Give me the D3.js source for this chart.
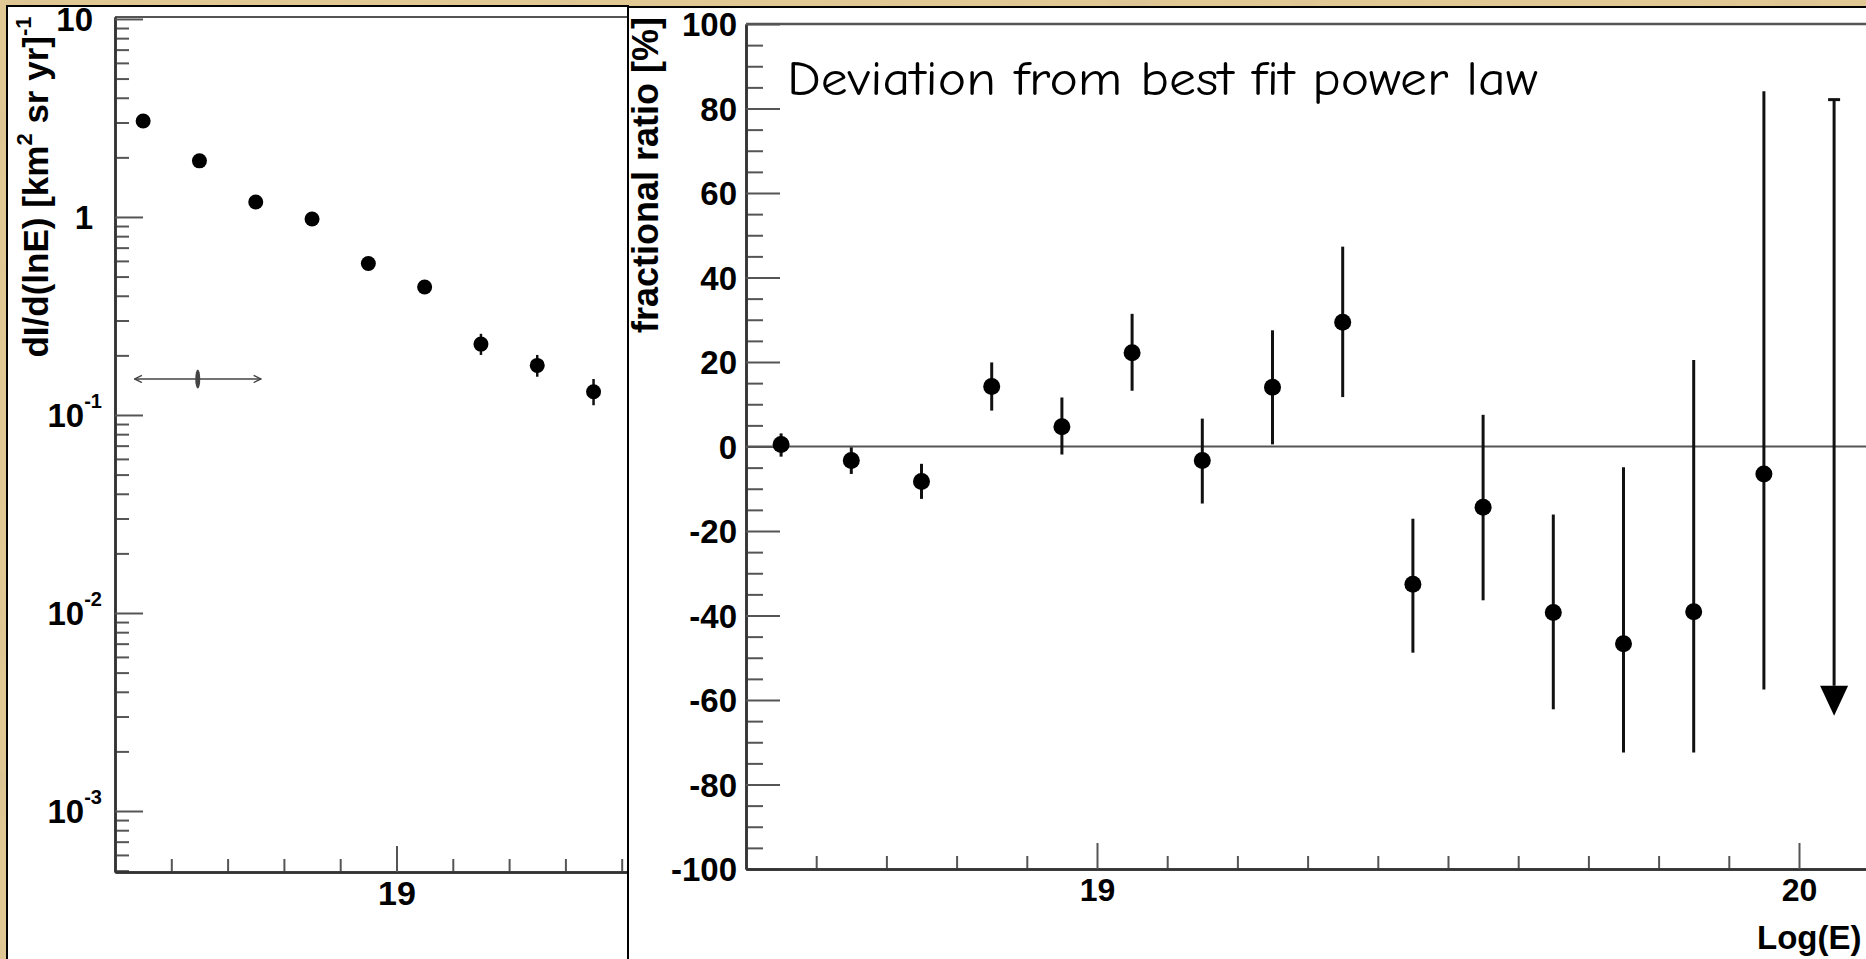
<!DOCTYPE html>
<html>
<head>
<meta charset="utf-8">
<script src="https://cdn.jsdelivr.net/npm/d3@7"></script>
<style>
  body { margin: 0; background: #e2c993; overflow: hidden; }
  svg { display: block; }
  .tick text { font-family: "Liberation Sans", Arial, sans-serif; font-weight: bold; fill: #000; }
  .axis-label { font-family: "Liberation Sans", Arial, sans-serif; font-weight: bold; fill: #000; }
</style>
</head>
<body>
<div id="chart"></div>
<script>
// left panel: differential flux
const fluxLogE = [18.55, 18.65, 18.75, 18.85, 18.95, 19.05, 19.15, 19.25, 19.35];
const fluxValues = [3.05, 1.92, 1.19, 0.977, 0.582, 0.443, 0.228, 0.178, 0.131];
const fluxLow = [2.96, 1.87, 1.16, 0.95, 0.565, 0.425, 0.201, 0.156, 0.112];
const fluxHigh = [3.14, 1.97, 1.22, 1.005, 0.60, 0.462, 0.257, 0.201, 0.152];
const resolutionCenter = 18.647, resolutionHalfWidth = 0.112, resolutionLevel = 0.152;

// right panel: deviation from power law
const ratioLogE = [18.55, 18.65, 18.75, 18.85, 18.95, 19.05, 19.15, 19.25, 19.35, 19.45, 19.55, 19.65, 19.75, 19.85, 19.95];
const ratioValues = [0.5, -3.3, -8.3, 14.2, 4.7, 22.2, -3.3, 14.0, 29.4, -32.6, -14.4, -39.3, -46.7, -39.1, -6.5];
const ratioHigh = [3.1, -0.2, -4.1, 19.9, 11.6, 31.4, 6.6, 27.5, 47.3, -17.1, 7.5, -16.1, -4.9, 20.5, 84.1];
const ratioLow = [-2.4, -6.5, -12.4, 8.5, -1.9, 13.2, -13.5, 0.5, 11.7, -48.8, -36.4, -62.2, -72.4, -72.4, -57.5];
const limitLogE = 20.05, limitTop = 82.1, limitArrowBase = -56.6, limitArrowTip = -63.7;

const fluxMajorTicks = [1e-3, 1e-2, 1e-1, 1, 10];
const fluxXMajor = [19];
const ratioXMajor = [19, 20];
const ratioYMajor = [-100, -80, -60, -40, -20, 0, 20, 40, 60, 80, 100];

const W = 1866, H = 959;

const svg = d3.select("#chart").append("svg")
    .attr("width", W)
    .attr("height", H);

const defs = svg.append("defs");
const paper = defs.append("filter").attr("id", "paper")
    .attr("filterUnits", "userSpaceOnUse")
    .attr("x", 0).attr("y", 0).attr("width", W).attr("height", H);
paper.append("feTurbulence").attr("type", "fractalNoise").attr("baseFrequency", 0.012).attr("numOctaves", 4).attr("seed", 7);
paper.append("feColorMatrix").attr("type", "matrix")
    .attr("values", "0 0 0 0 0.72  0 0 0 0 0.55  0 0 0 0 0.30  0 0 0 2.6 -1.05");

defs.append("clipPath").attr("id", "clipLeft")
    .append("rect").attr("x", 8).attr("y", 7).attr("width", 619).attr("height", H);
defs.append("clipPath").attr("id", "clipRight")
    .append("rect").attr("x", 629).attr("y", 8).attr("width", W).attr("height", H);

defs.append("marker").attr("id", "chev")
    .attr("viewBox", "0 0 10 10").attr("refX", 9).attr("refY", 5)
    .attr("markerWidth", 9).attr("markerHeight", 9)
    .attr("markerUnits", "userSpaceOnUse")
    .attr("orient", "auto-start-reverse")
    .append("path").attr("d", "M1,1 L9,5 L1,9")
    .attr("fill", "none").attr("stroke", "#444").attr("stroke-width", 1.5);

// parchment background
svg.append("rect").attr("width", W).attr("height", H).attr("fill", "#e2c993");
svg.append("rect").attr("width", W).attr("height", H).attr("fill", "#fff").attr("filter", "url(#paper)").attr("opacity", 0.8);

// panels
svg.append("rect").attr("x", 7).attr("y", 6).attr("width", 621).attr("height", H + 10)
    .attr("fill", "#fff").attr("stroke", "#000").attr("stroke-width", 2);
svg.append("rect").attr("x", 628).attr("y", 7).attr("width", W).attr("height", H + 10)
    .attr("fill", "#fff").attr("stroke", "#000").attr("stroke-width", 2);

function styleAxis(g) {
    g.attr("font-size", null).attr("font-family", null);
    g.select(".domain").attr("stroke", "#333").attr("stroke-width", 2.5);
    g.selectAll(".tick line").attr("stroke", "#555").attr("stroke-width", 2);
}

// ---------------- left panel ----------------
const left = svg.append("g").attr("clip-path", "url(#clipLeft)");

const xL = d3.scaleLinear().domain([18.5, 19.5]).range([115, 678]);
const yL = d3.scaleLog().domain([4.92e-4, 10.23]).range([872, 17]);

const fluxMinor = [];
for (let k = -4; k <= 1; k++) {
    for (let m = 2; m <= 9; m++) {
        const v = m * Math.pow(10, k);
        if (v > yL.domain()[0] && v < yL.domain()[1]) fluxMinor.push(v);
    }
}

left.append("line").attr("x1", 115).attr("x2", 640).attr("y1", 17).attr("y2", 17)
    .attr("stroke", "#555").attr("stroke-width", 2);

left.append("g")
    .attr("transform", "translate(115,0)")
    .call(d3.axisLeft(yL).tickValues(fluxMinor).tickSizeInner(-14).tickSizeOuter(0).tickFormat(""))
    .call(styleAxis);

const yAxisL = left.append("g")
    .attr("transform", "translate(115,0)")
    .call(d3.axisLeft(yL).tickValues(fluxMajorTicks).tickSizeInner(-28).tickSizeOuter(0).tickPadding(13).tickFormat(""))
    .call(styleAxis);

yAxisL.selectAll(".tick text").each(function(d) {
    const e = Math.round(Math.log10(d));
    const t = d3.select(this).attr("font-size", 33).attr("dy", "0.36em");
    if (e === 0 || e === 1) {
        t.attr("x", -22).text(e === 0 ? "1" : "10");
    } else {
        t.text("10");
        t.append("tspan").attr("font-size", 20).attr("dy", "-0.95em").text("-" + Math.abs(e));
    }
});

left.append("g")
    .attr("transform", "translate(0,872)")
    .call(d3.axisBottom(xL).tickValues(d3.range(18.6, 19.5, 0.1).filter(v => Math.abs(v - 19) > 0.01))
        .tickSizeInner(-13).tickSizeOuter(0).tickFormat(""))
    .call(styleAxis);

left.append("g")
    .attr("transform", "translate(0,872)")
    .call(d3.axisBottom(xL).tickValues(fluxXMajor).tickSizeInner(-26).tickSizeOuter(0).tickPadding(9).tickFormat(d => String(d)))
    .call(styleAxis)
    .selectAll(".tick text").attr("font-size", 34);

// resolution marker
left.append("line")
    .attr("x1", xL(resolutionCenter - resolutionHalfWidth))
    .attr("x2", xL(resolutionCenter + resolutionHalfWidth))
    .attr("y1", yL(resolutionLevel)).attr("y2", yL(resolutionLevel))
    .attr("stroke", "#444").attr("stroke-width", 1.5)
    .attr("marker-start", "url(#chev)").attr("marker-end", "url(#chev)");
left.append("ellipse")
    .attr("cx", xL(resolutionCenter)).attr("cy", yL(resolutionLevel))
    .attr("rx", 2.5).attr("ry", 9.5).attr("fill", "#444");

const fluxData = fluxLogE.map((x, i) => ({x: x, v: fluxValues[i], lo: fluxLow[i], hi: fluxHigh[i]}));

left.selectAll(".ferr")
    .data(fluxData)
    .enter()
    .append("line")
    .attr("class", "ferr")
    .attr("x1", d => xL(d.x)).attr("x2", d => xL(d.x))
    .attr("y1", d => yL(d.lo)).attr("y2", d => yL(d.hi))
    .attr("stroke", "#111").attr("stroke-width", 2.5);

left.selectAll(".fdot")
    .data(fluxData)
    .enter()
    .append("circle")
    .attr("class", "fdot")
    .attr("cx", d => xL(d.x)).attr("cy", d => yL(d.v))
    .attr("r", 7.5).attr("fill", "#000");

svg.append("text")
    .attr("class", "axis-label")
    .attr("transform", "translate(48,187) rotate(-90)")
    .attr("text-anchor", "middle")
    .attr("font-size", 35)
    .call(t => {
        t.append("tspan").text("dI/d(lnE) [km");
        t.append("tspan").attr("font-size", 22).attr("dy", "-0.75em").text("2");
        t.append("tspan").attr("dy", "0.47em").text(" sr yr]");
        t.append("tspan").attr("font-size", 22).attr("dy", "-0.75em").text("-1");
    });

// ---------------- right panel ----------------
const right = svg.append("g").attr("clip-path", "url(#clipRight)");

const xR = d3.scaleLinear().domain([18.5, 20.1]).range([746, 746 + 1.6 * 702]);
const yR = d3.scaleLinear().domain([-100, 100]).range([869, 24]);

right.append("line").attr("x1", 746).attr("x2", W).attr("y1", 24).attr("y2", 24)
    .attr("stroke", "#555").attr("stroke-width", 2.5);

right.append("g")
    .attr("transform", "translate(746,0)")
    .call(d3.axisLeft(yR).tickValues(d3.range(-100, 101, 5).filter(v => v % 20 !== 0))
        .tickSizeInner(-17).tickSizeOuter(0).tickFormat(""))
    .call(styleAxis);

right.append("g")
    .attr("transform", "translate(746,0)")
    .call(d3.axisLeft(yR).tickValues(ratioYMajor).tickSizeInner(-34).tickSizeOuter(0).tickPadding(9).tickFormat(d => String(d)))
    .call(styleAxis)
    .selectAll(".tick text").attr("font-size", 33).attr("dy", "0.36em");

right.append("g")
    .attr("transform", "translate(0,869)")
    .call(d3.axisBottom(xR).tickValues(d3.range(18.6, 20.15, 0.1).filter(v => Math.abs(v - 19) > 0.01 && Math.abs(v - 20) > 0.01))
        .tickSizeInner(-13).tickSizeOuter(0).tickFormat(""))
    .call(styleAxis);

right.append("g")
    .attr("transform", "translate(0,869)")
    .call(d3.axisBottom(xR).tickValues(ratioXMajor).tickSizeInner(-26).tickSizeOuter(0).tickPadding(9).tickFormat(d => String(d)))
    .call(styleAxis)
    .selectAll(".tick text").attr("font-size", 32);

right.append("line")
    .attr("x1", 746).attr("x2", W)
    .attr("y1", yR(0)).attr("y2", yR(0))
    .attr("stroke", "#555").attr("stroke-width", 2);

const ratioData = ratioLogE.map((x, i) => ({x: x, v: ratioValues[i], lo: ratioLow[i], hi: ratioHigh[i]}));

right.selectAll(".rerr")
    .data(ratioData)
    .enter()
    .append("line")
    .attr("class", "rerr")
    .attr("x1", d => xR(d.x)).attr("x2", d => xR(d.x))
    .attr("y1", d => yR(d.lo)).attr("y2", d => yR(d.hi))
    .attr("stroke", "#111").attr("stroke-width", 3);

right.selectAll(".rdot")
    .data(ratioData)
    .enter()
    .append("circle")
    .attr("class", "rdot")
    .attr("cx", d => xR(d.x)).attr("cy", d => yR(d.v))
    .attr("r", 8.5).attr("fill", "#000");

// upper limit
const lx = xR(limitLogE);
right.append("line")
    .attr("x1", lx).attr("x2", lx)
    .attr("y1", yR(limitTop)).attr("y2", yR(limitArrowBase))
    .attr("stroke", "#111").attr("stroke-width", 3);
right.append("line")
    .attr("x1", lx - 6).attr("x2", lx + 6)
    .attr("y1", yR(limitTop)).attr("y2", yR(limitTop))
    .attr("stroke", "#111").attr("stroke-width", 3);
right.append("path")
    .attr("d", `M${lx - 14},${yR(limitArrowBase)} L${lx + 14},${yR(limitArrowBase)} L${lx},${yR(limitArrowTip)} Z`)
    .attr("fill", "#000");

svg.append("text")
    .attr("class", "axis-label")
    .attr("transform", "translate(658,175) rotate(-90)")
    .attr("text-anchor", "middle")
    .attr("font-size", 36)
    .text("fractional ratio [%]");

svg.append("text")
    .attr("class", "axis-label")
    .attr("x", 1757).attr("y", 949)
    .attr("font-size", 33)
    .text("Log(E)");

svg.append("text")
    .attr("x", 787).attr("y", 95)
    .attr("font-family", "'Comic Sans MS', 'Comic Neue', 'Open Sans', sans-serif")
    .attr("font-size", 48)
    .attr("textLength", 751)
    .attr("lengthAdjust", "spacingAndGlyphs")
    .attr("fill", "#000")
    .text("Deviation from best fit power law");
</script>
</body>
</html>
